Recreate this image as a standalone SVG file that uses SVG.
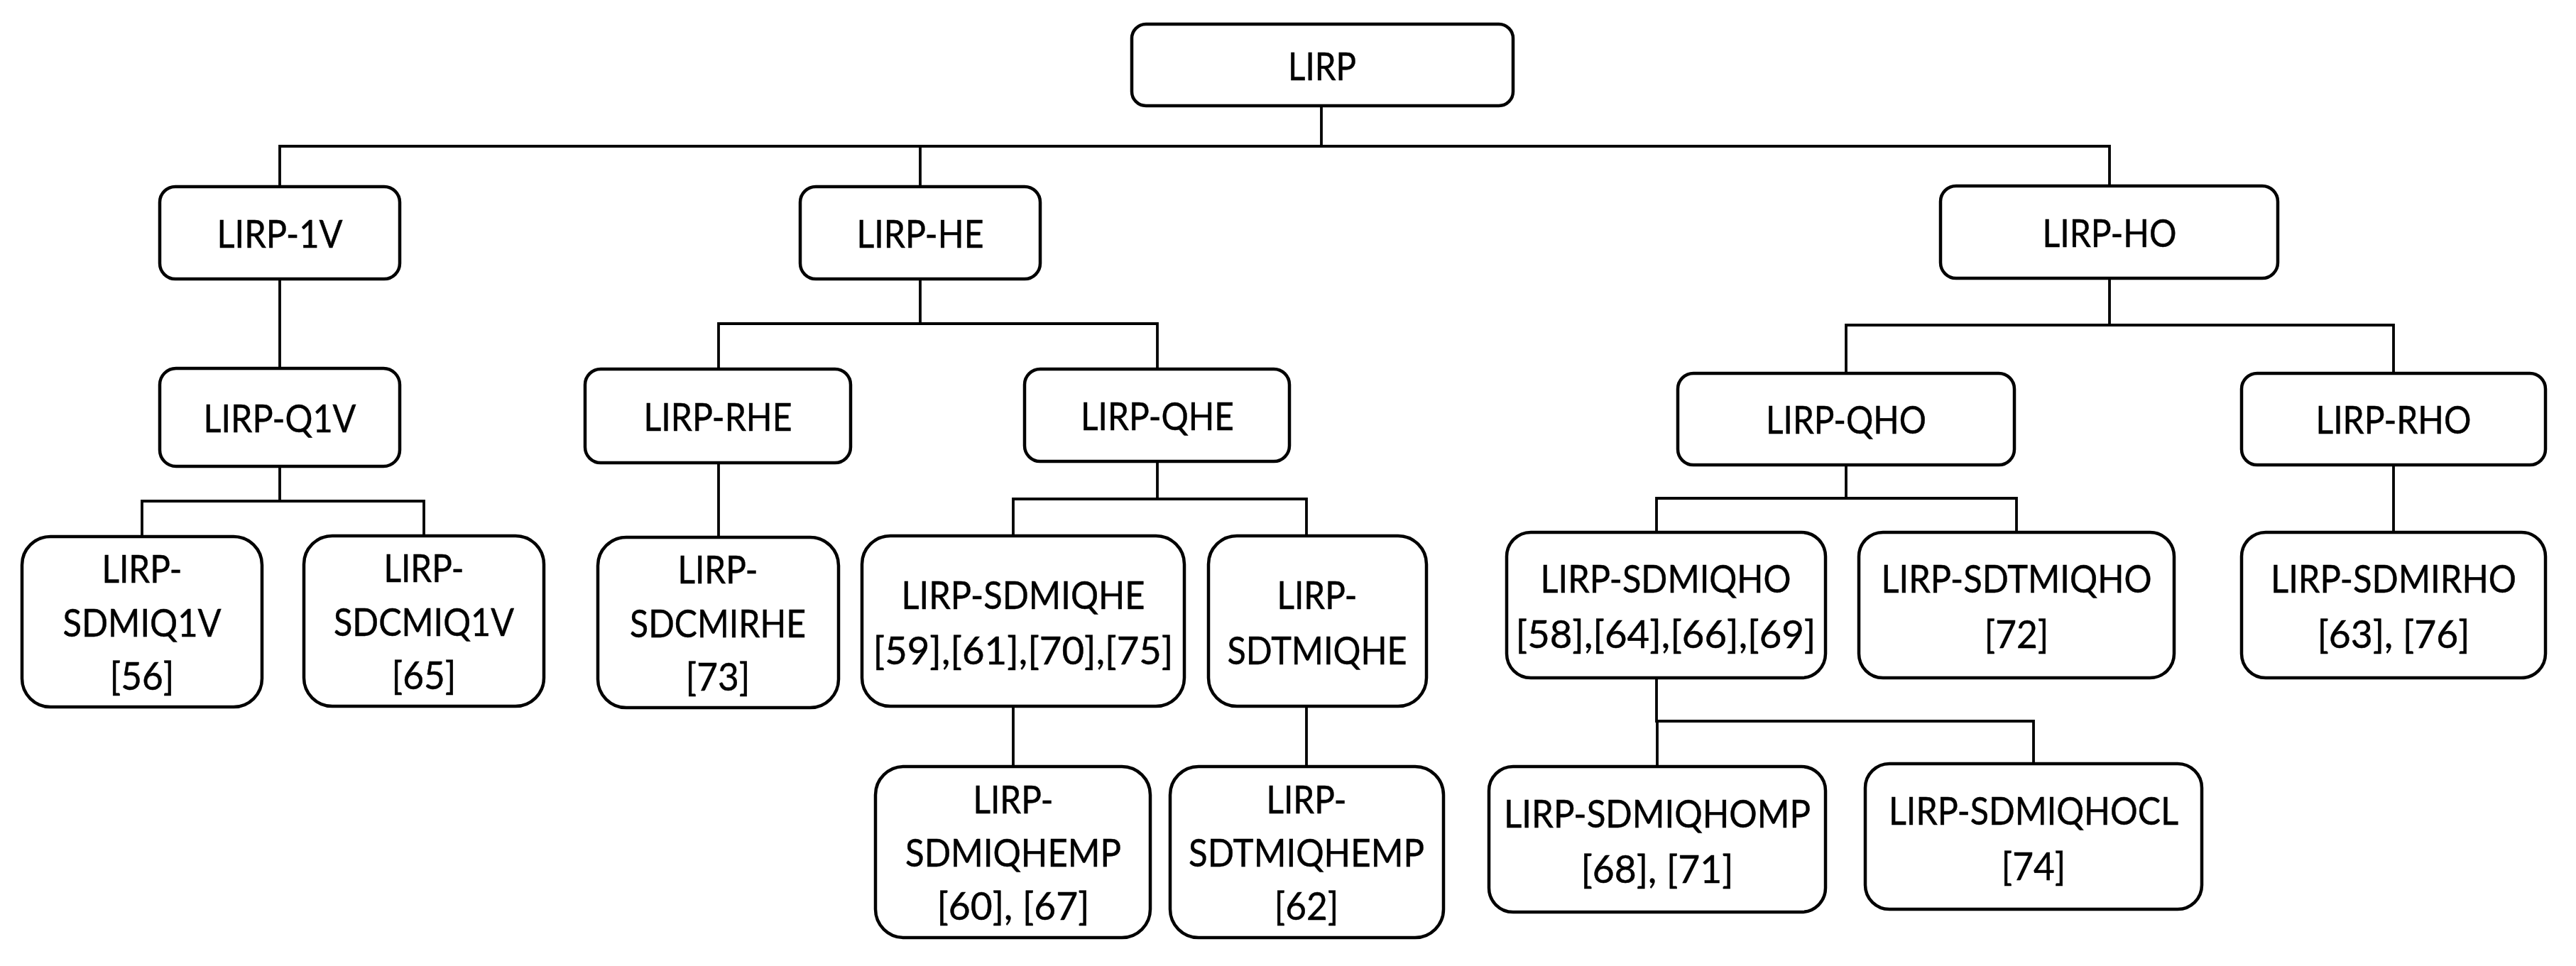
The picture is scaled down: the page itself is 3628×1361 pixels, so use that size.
<svg xmlns="http://www.w3.org/2000/svg" width="3628" height="1361" viewBox="0 0 3628 1361">
<style>
.box{fill:#fff;stroke:#000;stroke-width:4.5}
.t{font-family:Lato,"Liberation Sans",sans-serif;font-size:55px;fill:#000;stroke:#000;stroke-width:0.5;text-anchor:middle}
.c{fill:none;stroke:#000;stroke-width:3.8;stroke-linecap:square}
</style>
<rect width="3628" height="1361" fill="#fff"/>
<g id="connectors">
<path class="c" d="M1861 149V206M394 206H2971M394 206V263M1296 206V263M2971 206V262"/>
<path class="c" d="M394 393V519M394 657V706M200 706H597M200 706V756M597 706V755"/>
<path class="c" d="M1296 393V456M1012 456H1630M1012 456V520M1630 456V520M1012 652V757"/>
<path class="c" d="M1630 650V703M1427 703H1840M1427 703V755M1840 703V755M1427 995V1080M1840 995V1080"/>
<path class="c" d="M2971 392V458M2600 458H3371M2600 458V526M3371 458V526"/>
<path class="c" d="M2600 655V702M2333 702H2840M2333 702V750M2840 702V750M3371 655V750"/>
<path class="c" d="M2333 955V1016H2864M2334 1016V1080M2864 1016V1076"/>
</g>
<g id="n-LIRP"><rect class="box" x="1594" y="34" width="537" height="115" rx="20"/><text class="t" x="1862" y="113" textLength="96" lengthAdjust="spacingAndGlyphs">LIRP</text></g>
<g id="n-LIRP-1V"><rect class="box" x="225" y="263" width="338" height="130" rx="22"/><text class="t" x="394" y="349" textLength="177" lengthAdjust="spacingAndGlyphs">LIRP-1V</text></g>
<g id="n-LIRP-HE"><rect class="box" x="1127" y="263" width="338" height="130" rx="22"/><text class="t" x="1296" y="349" textLength="179" lengthAdjust="spacingAndGlyphs">LIRP-HE</text></g>
<g id="n-LIRP-HO"><rect class="box" x="2733" y="262" width="475" height="130" rx="22"/><text class="t" x="2971" y="348" textLength="189" lengthAdjust="spacingAndGlyphs">LIRP-HO</text></g>
<g id="n-LIRP-Q1V"><rect class="box" x="225" y="519" width="338" height="138" rx="23"/><text class="t" x="394" y="609" textLength="215" lengthAdjust="spacingAndGlyphs">LIRP-Q1V</text></g>
<g id="n-LIRP-RHE"><rect class="box" x="824" y="520" width="374" height="132" rx="22"/><text class="t" x="1011" y="607" textLength="209" lengthAdjust="spacingAndGlyphs">LIRP-RHE</text></g>
<g id="n-LIRP-QHE"><rect class="box" x="1443" y="520" width="373" height="130" rx="22"/><text class="t" x="1630" y="606" textLength="216" lengthAdjust="spacingAndGlyphs">LIRP-QHE</text></g>
<g id="n-LIRP-QHO"><rect class="box" x="2363" y="526" width="474" height="129" rx="22"/><text class="t" x="2600" y="611" textLength="226" lengthAdjust="spacingAndGlyphs">LIRP-QHO</text></g>
<g id="n-LIRP-RHO"><rect class="box" x="3157" y="526" width="428" height="129" rx="22"/><text class="t" x="3371" y="611" textLength="219" lengthAdjust="spacingAndGlyphs">LIRP-RHO</text></g>
<g id="n-LIRP-SDMIQ1V"><rect class="box" x="31" y="756" width="338" height="240" rx="40"/><text class="t" x="200" y="821" textLength="113" lengthAdjust="spacingAndGlyphs">LIRP-</text><text class="t" x="200" y="897" textLength="223" lengthAdjust="spacingAndGlyphs">SDMIQ1V</text><text class="t" x="200" y="972" textLength="91" lengthAdjust="spacingAndGlyphs">[56]</text></g>
<g id="n-LIRP-SDCMIQ1V"><rect class="box" x="428" y="755" width="338" height="240" rx="40"/><text class="t" x="597" y="820" textLength="113" lengthAdjust="spacingAndGlyphs">LIRP-</text><text class="t" x="597" y="896" textLength="254" lengthAdjust="spacingAndGlyphs">SDCMIQ1V</text><text class="t" x="597" y="971" textLength="91" lengthAdjust="spacingAndGlyphs">[65]</text></g>
<g id="n-LIRP-SDCMIRHE"><rect class="box" x="842" y="757" width="339" height="240" rx="40"/><text class="t" x="1011" y="822" textLength="113" lengthAdjust="spacingAndGlyphs">LIRP-</text><text class="t" x="1011" y="898" textLength="248" lengthAdjust="spacingAndGlyphs">SDCMIRHE</text><text class="t" x="1011" y="973" textLength="91" lengthAdjust="spacingAndGlyphs">[73]</text></g>
<g id="n-LIRP-SDMIQHE"><rect class="box" x="1214" y="755" width="454" height="240" rx="40"/><text class="t" x="1441" y="858" textLength="343" lengthAdjust="spacingAndGlyphs">LIRP-SDMIQHE</text><text class="t" x="1441" y="936" textLength="423" lengthAdjust="spacingAndGlyphs">[59],[61],[70],[75]</text></g>
<g id="n-LIRP-SDTMIQHE"><rect class="box" x="1702" y="755" width="307" height="240" rx="40"/><text class="t" x="1855" y="858" textLength="113" lengthAdjust="spacingAndGlyphs">LIRP-</text><text class="t" x="1855" y="936" textLength="253" lengthAdjust="spacingAndGlyphs">SDTMIQHE</text></g>
<g id="n-LIRP-SDMIQHO"><rect class="box" x="2122" y="750" width="449" height="205" rx="34"/><text class="t" x="2346" y="835" textLength="353" lengthAdjust="spacingAndGlyphs">LIRP-SDMIQHO</text><text class="t" x="2346" y="913" textLength="423" lengthAdjust="spacingAndGlyphs">[58],[64],[66],[69]</text></g>
<g id="n-LIRP-SDTMIQHO"><rect class="box" x="2618" y="750" width="444" height="205" rx="34"/><text class="t" x="2840" y="835" textLength="381" lengthAdjust="spacingAndGlyphs">LIRP-SDTMIQHO</text><text class="t" x="2840" y="913" textLength="91" lengthAdjust="spacingAndGlyphs">[72]</text></g>
<g id="n-LIRP-SDMIRHO"><rect class="box" x="3157" y="750" width="428" height="205" rx="34"/><text class="t" x="3371" y="835" textLength="346" lengthAdjust="spacingAndGlyphs">LIRP-SDMIRHO</text><text class="t" x="3371" y="913" textLength="215" lengthAdjust="spacingAndGlyphs">[63], [76]</text></g>
<g id="n-LIRP-SDMIQHEMP"><rect class="box" x="1233" y="1080" width="387" height="241" rx="40"/><text class="t" x="1427" y="1146" textLength="113" lengthAdjust="spacingAndGlyphs">LIRP-</text><text class="t" x="1427" y="1221" textLength="304" lengthAdjust="spacingAndGlyphs">SDMIQHEMP</text><text class="t" x="1427" y="1296" textLength="215" lengthAdjust="spacingAndGlyphs">[60], [67]</text></g>
<g id="n-LIRP-SDTMIQHEMP"><rect class="box" x="1648" y="1080" width="385" height="241" rx="40"/><text class="t" x="1840" y="1146" textLength="113" lengthAdjust="spacingAndGlyphs">LIRP-</text><text class="t" x="1840" y="1221" textLength="332" lengthAdjust="spacingAndGlyphs">SDTMIQHEMP</text><text class="t" x="1840" y="1296" textLength="91" lengthAdjust="spacingAndGlyphs">[62]</text></g>
<g id="n-LIRP-SDMIQHOMP"><rect class="box" x="2097" y="1080" width="474" height="205" rx="34"/><text class="t" x="2334" y="1166" textLength="432" lengthAdjust="spacingAndGlyphs">LIRP-SDMIQHOMP</text><text class="t" x="2334" y="1244" textLength="215" lengthAdjust="spacingAndGlyphs">[68], [71]</text></g>
<g id="n-LIRP-SDMIQHOCL"><rect class="box" x="2627" y="1076" width="474" height="205" rx="34"/><text class="t" x="2864" y="1162" textLength="408" lengthAdjust="spacingAndGlyphs">LIRP-SDMIQHOCL</text><text class="t" x="2864" y="1240" textLength="91" lengthAdjust="spacingAndGlyphs">[74]</text></g>
</svg>
